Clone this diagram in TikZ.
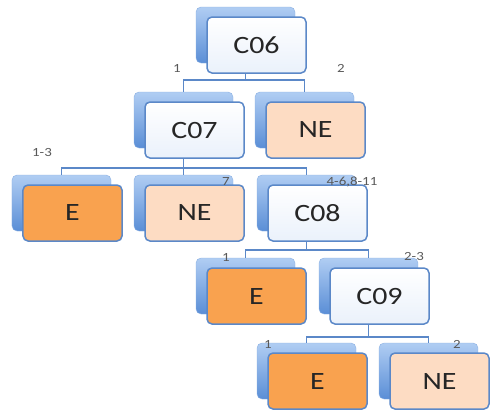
\documentclass[tikz,border=0pt]{standalone}
\usepackage{fontspec}
\setmainfont{Carlito}
\newfontfamily\boxfont{Carlito}[FakeStretch=1.2]
\definecolor{backtop}{HTML}{B0CDF3}
\definecolor{backbot}{HTML}{5A8ED6}
\definecolor{edge}{HTML}{5B88C8}
\definecolor{efill}{HTML}{F9A24F}
\definecolor{nfill}{HTML}{FDDCC3}
\definecolor{cfill}{HTML}{EAF1FB}
\definecolor{txt}{HTML}{262626}
\definecolor{labc}{HTML}{595959}
\newcommand\mybox[5]{%
  \node[backbox] (#1b) at (#2+38.5,#3+18) {};
  \node[#4] (#1) at (#2+49.5,#3+28) {#5};}
\begin{document}
\begin{tikzpicture}[x=1bp,y=-1bp,
  backbox/.style={rounded corners=5bp, minimum width=99bp, minimum height=56bp, inner sep=0pt,
    top color=backtop, bottom color=backbot, draw=backbot!70!white, line width=0.4bp},
  frontbox/.style={rounded corners=5bp, minimum width=99bp, minimum height=56bp, inner sep=0pt,
    draw=edge, line width=1.5bp, font=\boxfont\fontsize{25}{25}\selectfont, text=txt},
  cbox/.style={frontbox, top color=white, bottom color=cfill},
  ebox/.style={frontbox, fill=efill},
  nbox/.style={frontbox, fill=nfill},
  conn/.style={draw=edge, line width=1.5bp},
  lab/.style={font=\boxfont\fontsize{12.5}{12.5}\selectfont, text=labc, inner sep=0pt}]
\useasboundingbox (0,0) rectangle (490,410);
\mybox{c06}{207}{17}{cbox}{C06}
\mybox{c07}{145}{102}{cbox}{C07}
\mybox{ne1}{266}{102}{nbox}{NE}
\mybox{e2}{23}{185}{ebox}{E}
\mybox{ne2}{145}{185}{nbox}{NE}
\mybox{c08}{268}{185}{cbox}{C08}
\mybox{e3}{207}{268}{ebox}{E}
\mybox{c09}{330}{268}{cbox}{C09}
\mybox{e4}{268}{353}{ebox}{E}
\mybox{ne4}{390}{353}{nbox}{NE}
\coordinate (bus1) at (0,80);
\coordinate (bus2) at (0,168);
\coordinate (bus3) at (0,250);
\coordinate (bus4) at (0,337);
% connectors
\draw[conn] (c06.south -| c06b) -- (bus1 -| c06b);
\draw[conn] (c07b.north) |- (bus1 -| ne1b) -- (ne1b.north);
\draw[conn] (c07.south -| c07b) -- (bus2 -| c07b);
\draw[conn] (e2b.north) |- (bus2 -| c08b) -- (c08b.north);
\draw[conn] (ne2b.north) -- (bus2 -| ne2b);
\draw[conn] (c08.south -| c08b) -- (bus3 -| c08b);
\draw[conn] (e3b.north) |- (bus3 -| c09b) -- (c09b.north);
\draw[conn] (c09.south -| c09b) -- (bus4 -| c09b);
\draw[conn] (e4b.north) |- (bus4 -| ne4b) -- (ne4b.north);
% labels
\node[lab] (l1) at (177,68) {1};
\node[lab] (l2) at (341,68) {2};
\node[lab] (l3) at (42,152) {1-3};
\node[lab] (l4) at (226,181) {7};
\node[lab] (l5) at (352,182) {4-6,8-11};
\node[lab] (l6) at (226,257) {1};
\node[lab] (l7) at (414,256) {2-3};
\node[lab] (l8) at (268,344) {1};
\node[lab] (l9) at (457,344) {2};
\end{tikzpicture}
\end{document}
